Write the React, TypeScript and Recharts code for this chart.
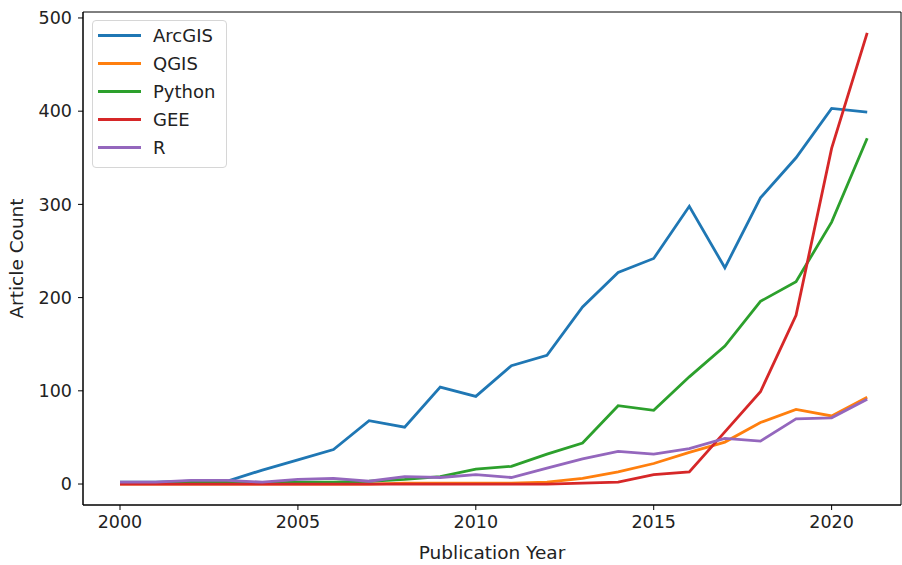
import React from 'react';
import {
  LineChart,
  Line,
  XAxis,
  YAxis,
  ReferenceArea,
} from 'recharts';

const years = [
  2000, 2001, 2002, 2003, 2004, 2005, 2006, 2007, 2008, 2009, 2010,
  2011, 2012, 2013, 2014, 2015, 2016, 2017, 2018, 2019, 2020, 2021,
];
const arcgis = [2, 2, 3, 3, 15, 26, 37, 68, 61, 104, 94, 127, 138, 190, 227, 242, 298, 232, 307, 350, 403, 399];
const qgis = [0, 0, 0, 0, 0, 0, 0, 0, 1, 1, 1, 1, 2, 6, 13, 22, 34, 45, 66, 80, 73, 93];
const python = [1, 1, 2, 2, 1, 2, 2, 3, 5, 8, 16, 19, 32, 44, 84, 79, 115, 148, 196, 217, 281, 371];
const gee = [0, 0, 0, 0, 0, 0, 0, 0, 0, 0, 0, 0, 0, 1, 2, 10, 13, 56, 99, 181, 360, 484];
const rLang = [2, 2, 4, 4, 2, 5, 6, 3, 8, 7, 10, 7, 17, 27, 35, 32, 38, 49, 46, 70, 71, 91];

const yTicks = [0, 100, 200, 300, 400, 500];
const xTicks = [2000, 2005, 2010, 2015, 2020];

const series = [
  { key: 'ArcGIS', values: arcgis, color: '#1f77b4' },
  { key: 'QGIS', values: qgis, color: '#ff7f0e' },
  { key: 'Python', values: python, color: '#2ca02c' },
  { key: 'GEE', values: gee, color: '#d62728' },
  { key: 'R', values: rLang, color: '#9467bd' },
];

const data = years.map((year, i) => {
  const row: Record<string, number> = { year };
  series.forEach((s) => {
    row[s.key] = s.values[i];
  });
  return row;
});

const X_DOMAIN: [number, number] = [1998.96, 2021.95];
const Y_DOMAIN: [number, number] = [-22.5, 506.4];
const FONT = 'DejaVu Sans, sans-serif';
const TEXT = '#222';

// legend drawn as a plain box, sits inside the plot like matplotlib's
function ChartLegend() {
  return (
    <div
      style={{
        position: 'absolute',
        top: 20,
        left: 92,
        width: 128,
        border: '1px solid #d6d6d6',
        borderRadius: 4,
        background: 'rgba(255,255,255,0.85)',
        padding: '0 0 6px 5px',
        fontFamily: FONT,
        fontSize: 18,
        color: TEXT,
      }}
    >
      {series.map((s) => (
        <div key={s.key} style={{ display: 'flex', alignItems: 'center', height: 28 }}>
          <span
            style={{
              display: 'inline-block',
              width: 43,
              height: 3,
              background: s.color,
              marginRight: 12,
            }}
          />
          <span>{s.key}</span>
        </div>
      ))}
    </div>
  );
}

export default function App() {
  return (
    <div style={{ position: 'relative', width: 902, height: 565, background: '#fff' }}>
      <style>{'body{margin:0;}'}</style>
      <LineChart
        width={902}
        height={565}
        data={data}
        margin={{ top: 12, right: 1, bottom: 0, left: 0 }}
      >
        <XAxis
          dataKey="year"
          type="number"
          domain={X_DOMAIN}
          ticks={xTicks}
          allowDataOverflow
          height={60}
          tickSize={5}
          tickMargin={6}
          axisLine={{ stroke: '#000' }}
          tickLine={{ stroke: '#000' }}
          tick={{ fill: TEXT, fontSize: 17.5, fontFamily: FONT }}
          label={{
            value: 'Publication Year',
            position: 'insideBottom',
            offset: 6,
            fill: TEXT,
            fontSize: 18.5,
            fontFamily: FONT,
          }}
        />
        <YAxis
          type="number"
          domain={Y_DOMAIN}
          ticks={yTicks}
          allowDataOverflow
          width={83}
          tickSize={5}
          tickMargin={6}
          axisLine={{ stroke: '#000' }}
          tickLine={{ stroke: '#000' }}
          tick={{ fill: TEXT, fontSize: 17.5, fontFamily: FONT }}
          label={{
            value: 'Article Count',
            angle: -90,
            position: 'insideLeft',
            offset: 16,
            style: { textAnchor: 'middle' },
            fill: TEXT,
            fontSize: 18.5,
            fontFamily: FONT,
          }}
        />
        <ReferenceArea
          x1={X_DOMAIN[0]}
          x2={X_DOMAIN[1]}
          y1={Y_DOMAIN[0]}
          y2={Y_DOMAIN[1]}
          fill="none"
          stroke="#000"
          strokeWidth={1}
          ifOverflow="visible"
        />
        {series.map((s) => (
          <Line
            key={s.key}
            type="linear"
            dataKey={s.key}
            stroke={s.color}
            strokeWidth={2.8}
            dot={false}
            activeDot={false}
            isAnimationActive={false}
          />
        ))}
      </LineChart>
      <ChartLegend />
    </div>
  );
}
